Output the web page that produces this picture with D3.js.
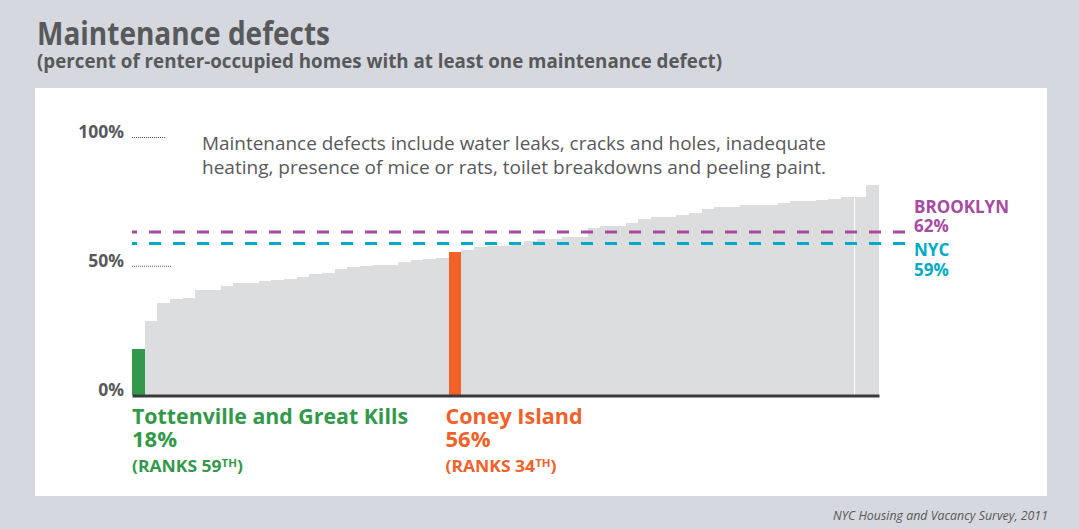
<!DOCTYPE html>
<html lang="en">
	<head>
		<meta charset="utf-8">
		<title>Maintenance defects</title>
		<script type="text/javascript" src="https://cdn.jsdelivr.net/npm/d3@7/dist/d3.min.js"></script>
		<style type="text/css">
			body { margin: 0; }
			svg { display: block; font-family: "Open Sans", sans-serif; }
		</style>
	</head>
	<body>
		<script type="text/javascript">
			//Width and height
			var w = 1079;
			var h = 529;

			//Share of renter-occupied homes with a defect, by community district, lowest first
			var values = [ 18, 28.7, 35.7, 37.2, 37.6, 40.7, 40.7, 42.2, 43.4, 43.4,
						   44.2, 44.6, 45.0, 45.7, 46.9, 47.3, 48.8, 49.6, 50.0, 50.4,
						   50.4, 51.6, 52.3, 52.7, 53.1, 55.5, 56.2, 57.4, 57.8, 57.8,
						   58.1, 59.7, 60.5, 60.5, 61.2, 61.2, 64.7, 65.5, 65.5, 66.7,
						   68.2, 69.0, 69.0, 69.8, 70.5, 72.1, 72.9, 72.9, 73.6, 73.6,
						   73.6, 74.4, 75.2, 75.2, 75.6, 76.0, 76.7, 76.7, 81.4 ];
			var ranks = values.map(function(d, i) { return values.length - i; });

			var highlightNames = [ "Tottenville and Great Kills", "Coney Island" ];
			var highlightRanks = [ 59, 34 ];
			var highlightPct = [ "18%", "56%" ];

			var refNames = [ "BROOKLYN", "NYC" ];
			var refPct = [ "62%", "59%" ];
			var refLevels = [ 63.3, 58.8 ];		//where the dashed lines sit

			var yTicks = [ 0, 50, 100 ];

			var textGray = "#58595b";
			var highlightColors = [ "#33994a", "#f26128" ];
			var refColors = [ "#a64b9f", "#00abc8" ];

			var xScale = d3.scaleBand()
							.domain(ranks)
							.range([132, 879]);

			var yScale = d3.scaleLinear()
							.domain([0, 100])
							.range([395, 137.5]);

			//squeeze a text to a set width (the original face is condensed)
			function fit(sel, width) {
				sel.attr("textLength", width)
				   .attr("lengthAdjust", "spacingAndGlyphs");
			}

			//Create SVG element
			var svg = d3.select("body")
						.append("svg")
						.attr("width", w)
						.attr("height", h);

			svg.append("rect")
			   .attr("width", w)
			   .attr("height", h)
			   .attr("fill", "#d5d8de");

			svg.append("rect")
			   .attr("x", 35)
			   .attr("y", 88)
			   .attr("width", 1012)
			   .attr("height", 408)
			   .attr("fill", "white");

			//Titles
			svg.append("text")
			   .attr("x", 37)
			   .attr("y", 45)
			   .attr("font-size", "32px")
			   .attr("font-weight", 700)
			   .attr("fill", textGray)
			   .text("Maintenance defects")
			   .call(fit, 293);

			svg.append("text")
			   .attr("x", 37)
			   .attr("y", 68)
			   .attr("font-size", "19px")
			   .attr("font-weight", 700)
			   .attr("fill", textGray)
			   .text("(percent of renter-occupied homes with at least one maintenance defect)")
			   .call(fit, 685);

			//Create bars
			svg.selectAll("rect.bar")
			   .data(values)
			   .enter()
			   .append("rect")
			   .attr("class", "bar")
			   .attr("shape-rendering", "crispEdges")
			   .attr("x", function(d, i) {
			   		return xScale(ranks[i]);
			   })
			   .attr("y", function(d) {
			   		return yScale(d);
			   })
			   .attr("width", xScale.bandwidth())
			   .attr("height", function(d) {
			   		return yScale(0) - yScale(d);
			   })
			   .attr("fill", function(d, i) {
			   		var k = highlightRanks.indexOf(ranks[i]);
			   		return k >= 0 ? highlightColors[k] : "#dcdddf";
			   });

			//thin white seam between the 3rd and 2nd highest bars
			svg.append("line")
			   .attr("x1", Math.round(xScale(2)) + 0.5)
			   .attr("x2", Math.round(xScale(2)) + 0.5)
			   .attr("y1", yScale(values[values.length - 3]))
			   .attr("y2", yScale(0))
			   .attr("stroke", "white")
			   .attr("stroke-width", 1);

			//Y axis
			var yAxis = d3.axisLeft(yScale)
						  .tickValues(yTicks)
						  .tickFormat(function(d) { return d + "%"; })
						  .tickSize(0)
						  .tickPadding(8);

			var gy = svg.append("g")
						.attr("transform", "translate(132,0)")
						.call(yAxis);
			gy.select(".domain").remove();
			gy.selectAll("text")
			  .attr("dy", 0)
			  .attr("font-family", "Open Sans, sans-serif")
			  .attr("font-size", "17.5px")
			  .attr("font-weight", 700)
			  .attr("fill", textGray);

			//dotted leaders
			gy.selectAll(".tick")
			  .filter(function(d) { return d > 0; })
			  .append("line")
			  .attr("x1", 0)
			  .attr("x2", function(d) { return d === 100 ? 33 : 39; })
			  .attr("y1", -0.5)
			  .attr("y2", -0.5)
			  .attr("stroke", "#555")
			  .attr("stroke-width", 1)
			  .attr("stroke-dasharray", "1,1");

			//Baseline
			var xAxis = d3.axisBottom(xScale)
						  .tickValues([])
						  .tickSizeOuter(0);
			svg.append("g")
			   .attr("transform", "translate(0," + (yScale(0) + 0.5) + ")")
			   .call(xAxis)
			   .select(".domain")
			   .attr("stroke", "#3a3a3c")
			   .attr("stroke-width", 3);

			//Reference lines
			svg.selectAll("line.ref")
			   .data(refLevels)
			   .enter()
			   .append("line")
			   .attr("class", "ref")
			   .attr("x1", 132)
			   .attr("x2", 908)
			   .attr("y1", function(d) { return yScale(d); })
			   .attr("y2", function(d) { return yScale(d); })
			   .attr("stroke", function(d, i) { return refColors[i]; })
			   .attr("stroke-width", 3)
			   .attr("stroke-dasharray", "12,12")
			   .attr("stroke-dashoffset", 7);

			var refY = [ [213, 232], [256, 276] ];
			refNames.forEach(function(name, i) {
				var t = svg.append("text")
						   .attr("x", 914)
						   .attr("font-size", "17px")
						   .attr("font-weight", 700)
						   .attr("fill", refColors[i]);
				t.append("tspan").attr("x", 914).attr("y", refY[i][0]).text(name);
				t.append("tspan").attr("x", 914).attr("y", refY[i][1]).text(refPct[i]);
			});

			//Note
			var note = [ "Maintenance defects include water leaks, cracks and holes, inadequate",
						 "heating, presence of mice or rats, toilet breakdowns and peeling paint." ];
			svg.selectAll("text.note")
			   .data(note)
			   .enter()
			   .append("text")
			   .attr("class", "note")
			   .attr("x", 202)
			   .attr("y", function(d, i) { return 150 + i * 23.5; })
			   .attr("font-size", "18px")
			   .attr("fill", textGray)
			   .text(function(d) { return d; })
			   .call(fit, 624);

			//Highlight labels
			var nameWidths = [ 276, 137 ];
			highlightNames.forEach(function(name, i) {
				var x = xScale(highlightRanks[i]) - (i === 0 ? 0 : 3);
				var g = svg.append("g")
						   .attr("fill", highlightColors[i])
						   .attr("font-weight", 700);
				g.append("text")
				 .attr("x", x)
				 .attr("y", 424)
				 .attr("font-size", "22px")
				 .text(name)
				 .call(fit, nameWidths[i]);
				g.append("text")
				 .attr("x", x)
				 .attr("y", 447)
				 .attr("font-size", "22px")
				 .text(highlightPct[i]);
				var r = g.append("text")
						 .attr("x", x)
						 .attr("y", 472)
						 .attr("font-size", "16px");
				r.append("tspan").text("(RANKS " + highlightRanks[i]);
				r.append("tspan").attr("font-size", "10.5px").attr("dy", -5).text("TH");
				r.append("tspan").attr("dy", 5).text(")");
				r.call(fit, 111);
			});

			//Source
			svg.append("text")
			   .attr("x", 1048)
			   .attr("y", 520)
			   .attr("text-anchor", "end")
			   .attr("font-size", "13px")
			   .attr("font-style", "italic")
			   .attr("fill", textGray)
			   .text("NYC Housing and Vacancy Survey, 2011")
			   .call(fit, 215);
		</script>
	</body>
</html>
